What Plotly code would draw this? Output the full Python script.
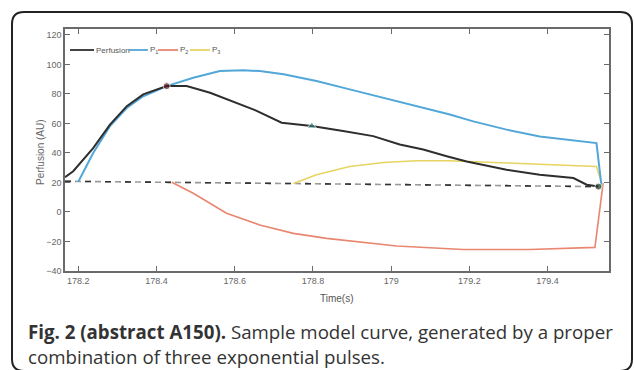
import plotly.graph_objects as go

# ---- data ----
t_perf = [178.166, 178.187, 178.238, 178.281, 178.324, 178.366, 178.426, 178.477, 178.537,
          178.596, 178.652, 178.720, 178.797, 178.877, 178.954, 179.022, 179.082, 179.142,
          179.193, 179.295, 179.380, 179.466, 179.500, 179.530]
v_perf = [23.5, 27.6, 43.3, 59.2, 71.7, 79.7, 85.3, 85.3, 80.8,
          75.0, 69.0, 60.5, 58.2, 54.8, 51.4, 45.7, 42.3, 37.8,
          34.2, 28.6, 25.2, 23.0, 18.5, 17.2]

t_p1 = [178.200, 178.238, 178.281, 178.324, 178.366, 178.426, 178.494, 178.562, 178.622,
        178.664, 178.725, 178.809, 178.894, 178.980, 179.065, 179.150, 179.210, 179.295,
        179.380, 179.466, 179.525, 179.538]
v_p1 = [20.5, 40.0, 58.2, 70.5, 78.4, 85.3, 91.0, 95.5, 96.0,
        95.5, 93.3, 88.7, 83.1, 77.4, 71.7, 66.0, 61.4, 55.8,
        51.2, 48.5, 46.7, 17.2]

t_p2 = [178.439, 178.494, 178.579, 178.664, 178.750, 178.835, 179.014, 179.184, 179.354,
        179.521, 179.542]
v_p2 = [20.1, 12.7, -0.9, -8.8, -14.5, -17.9, -23.1, -25.4, -25.4, -24.0, 19.5]

t_p3 = [178.750, 178.809, 178.894, 178.980, 179.065, 179.150, 179.295, 179.525, 179.541]
v_p3 = [19.3, 25.2, 30.8, 33.5, 34.7, 34.7, 33.2, 30.8, 17.0]

t_base = [178.166, 179.530]
v_base = [20.8, 17.2]

t_marks = [178.426, 178.797, 179.530]
v_marks = [85.3, 58.2, 17.2]

x_ticks = [178.2, 178.4, 178.6, 178.8, 179.0, 179.2, 179.4]
x_ticktext = ["178.2", "178.4", "178.6", "178.8", "179", "179.2", "179.4"]
y_ticks = [-40, -20, 0, 20, 40, 60, 80, 100, 120]

series_names = ["Perfusion", "P<sub>1</sub>", "P<sub>2</sub>", "P<sub>3</sub>"]
series_colors = ["#2e2e2e", "#52a7d8", "#e98670", "#e8d462"]

# ---- layout geometry (pixels) ----
W, H = 634, 370
L, R, T, B = 65, 609, 29, 271


def fx(px):
    return (px - L) / (R - L)


def fy(py):
    return (B - py) / (B - T)


fig = go.Figure()

# baseline (dashed)
fig.add_trace(go.Scatter(x=t_base, y=v_base, mode="lines",
                         line=dict(color="#9a9a9a", width=1.6, dash="6px,4px"),
                         showlegend=False, hoverinfo="skip"))
fig.add_trace(go.Scatter(x=t_base, y=v_base, mode="lines",
                         line=dict(color="#333333", width=1.6, dash="6px,14px"),
                         showlegend=False, hoverinfo="skip"))

fig.add_trace(go.Scatter(x=t_p2, y=v_p2, mode="lines", line=dict(color=series_colors[2], width=1.6),
                         showlegend=False))
fig.add_trace(go.Scatter(x=t_p3, y=v_p3, mode="lines", line=dict(color=series_colors[3], width=1.6),
                         showlegend=False))
fig.add_trace(go.Scatter(x=t_p1, y=v_p1, mode="lines", line=dict(color=series_colors[1], width=2),
                         showlegend=False))
fig.add_trace(go.Scatter(x=t_perf, y=v_perf, mode="lines", line=dict(color=series_colors[0], width=2),
                         showlegend=False))

fig.add_trace(go.Scatter(x=t_marks, y=v_marks, mode="markers",
                         marker=dict(symbol=["circle", "triangle-up", "circle"],
                                     color=["#5a1820", "#2f7d72", "#1f3d22"], size=[7, 8, 7]),
                         showlegend=False))

shapes = []
annotations = []

# manual legend
leg_y = fy(50)
leg_segs = [(70, 94), (129, 148), (158, 178), (190, 210)]
for (a, b), name, col in zip(leg_segs, series_names, series_colors):
    shapes.append(dict(type="line", xref="paper", yref="paper", x0=fx(a), x1=fx(b), y0=leg_y, y1=leg_y,
                       line=dict(color=col, width=1.8)))
    annotations.append(dict(xref="paper", yref="paper", x=fx(b), y=leg_y, text=name, showarrow=False,
                            xanchor="left", yanchor="middle", font=dict(size=8, color="#555555",
                                                                        family="Liberation Sans")))

# outer rounded frame
x0, x1 = fx(12), fx(632)
y0, y1 = fy(12), fy(371)
rx, ry = 12 / (R - L), 12 / (B - T)
path = (f"M {x0+rx},{y0} L {x1-rx},{y0} Q {x1},{y0} {x1},{y0-ry} "
        f"L {x1},{y1+ry} Q {x1},{y1} {x1-rx},{y1} L {x0+rx},{y1} Q {x0},{y1} {x0},{y1+ry} "
        f"L {x0},{y0-ry} Q {x0},{y0} {x0+rx},{y0} Z")
shapes.append(dict(type="path", xref="paper", yref="paper", path=path,
                   line=dict(color="#222222", width=2), layer="above"))

# axis titles
annotations.append(dict(xref="paper", yref="paper", x=fx(337), y=fy(298), text="Time(s)", showarrow=False,
                        xanchor="center", yanchor="middle", font=dict(size=10, color="#555555",
                                                                      family="Liberation Sans")))
annotations.append(dict(xref="paper", yref="paper", x=fx(40), y=fy(152), text="Perfusion (AU)",
                        showarrow=False, textangle=-90, xanchor="center", yanchor="middle",
                        font=dict(size=10, color="#666666", family="Liberation Sans")))

# caption
annotations.append(dict(xref="paper", yref="paper", x=fx(26), y=fy(331),
                        text="<b>Fig. 2 (abstract A150).</b> Sample model curve, generated by a proper",
                        showarrow=False, xanchor="left", yanchor="middle",
                        font=dict(size=18.7, color="#333333", family="Open Sans")))
annotations.append(dict(xref="paper", yref="paper", x=fx(26), y=fy(356),
                        text="combination of three exponential pulses.",
                        showarrow=False, xanchor="left", yanchor="middle",
                        font=dict(size=18.7, color="#333333", family="Open Sans")))

axis_common = dict(showgrid=False, zeroline=False, showline=True, linecolor="#6a6a6a", linewidth=1.5,
                   mirror="ticks", ticks="inside", ticklen=5, tickcolor="#6a6a6a", tickwidth=1.2,
                   tickfont=dict(size=9, color="#666666", family="Liberation Sans"))

fig.update_layout(
    width=W, height=H,
    margin=dict(l=L, r=W - R, t=T, b=H - B),
    paper_bgcolor="white", plot_bgcolor="white",
    xaxis=dict(range=[178.166, 179.557], tickvals=x_ticks, ticktext=x_ticktext, **axis_common),
    yaxis=dict(range=[-40, 124], tickvals=y_ticks, **axis_common),
    shapes=shapes, annotations=annotations, showlegend=False,
)

fig.write_html("out.html", config={"displayModeBar": False},
               post_script="document.body.style.margin='0px';document.body.style.overflow='hidden';")
